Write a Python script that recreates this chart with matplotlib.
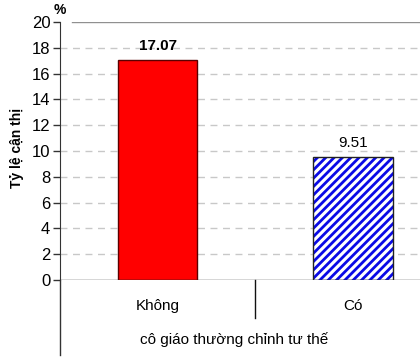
import matplotlib.pyplot as plt
import numpy as np

plt.rcParams['font.family'] = ['Liberation Sans', 'DejaVu Sans']

# data
categories = ['Không', 'Có']
values = [17.07, 9.51]
value_labels = ['17.07', '9.51']
yticks = [0, 2, 4, 6, 8, 10, 12, 14, 16, 18, 20]

fig = plt.figure(figsize=(4.2, 3.58), dpi=100)
ax = fig.add_axes([60/420, 78/358, 360/420, 258/358])

x = np.arange(len(categories))
plt.rcParams['hatch.linewidth'] = 2.0
ax.bar(x[0], values[0], width=0.405, color='#ff0000', edgecolor='#5a0000', linewidth=1.0, zorder=3)
ax.bar(x[1], values[1], width=0.405, color='white', edgecolor='#0a0ae6', hatch='////', linewidth=0, zorder=3)
ax.bar(x[1], values[1], width=0.405, fill=False, edgecolor='#222222', linewidth=1.0, zorder=4)

ax.set_xlim(-0.5, 1.343)
ax.set_ylim(0, 20)
ax.set_yticks(yticks)
ax.set_yticklabels([str(t) for t in yticks], fontsize=12)
ax.set_xticks([])

# dashed grid, solid line at the top
for t in yticks[1:-1]:
    ax.axhline(t, color='#c8c8c8', lw=1.0, ls=(0, (5, 4)), zorder=1)
ax.axhline(20, xmin=12/360, color='#909090', lw=1.0, zorder=1)

for s in ['top', 'right', 'bottom']:
    ax.spines[s].set_visible(False)
ax.spines['left'].set_color('#333333')
ax.spines['left'].set_bounds(0, 20)
ax.tick_params(axis='y', length=5, width=1, color='#333333', pad=2)
ax.axhline(0, color='#333333', lw=1.0, zorder=5)

# axis line continues down through the category area, plus a separator
ax.plot([-0.5, -0.5], [0, -5.8], color='#333333', lw=1.0, clip_on=False)
ax.plot([0.5, 0.5], [0, -2.95], color='#111111', lw=1.0, clip_on=False)

ax.text(x[0], values[0] + 0.55, value_labels[0], ha='center', va='bottom', fontsize=11, fontweight='bold')
ax.text(x[1], values[1] + 0.6, value_labels[1], ha='center', va='bottom', fontsize=11)

for xi, c in zip(x, categories):
    ax.text(xi, -2.0, c, ha='center', va='center', fontsize=11)
ax.text(0.39, -4.65, 'cô giáo thường chỉnh tư thế', ha='center', va='center', fontsize=11)

ax.text(-0.5, 20.35, '%', ha='center', va='bottom', fontsize=10, fontweight='bold')
fig.text(17/420, 1 - 148/358, 'Tỷ lệ cận thị', rotation=90, ha='center', va='center',
         fontsize=10, fontweight='bold')

fig.savefig('out.png', dpi=100)
